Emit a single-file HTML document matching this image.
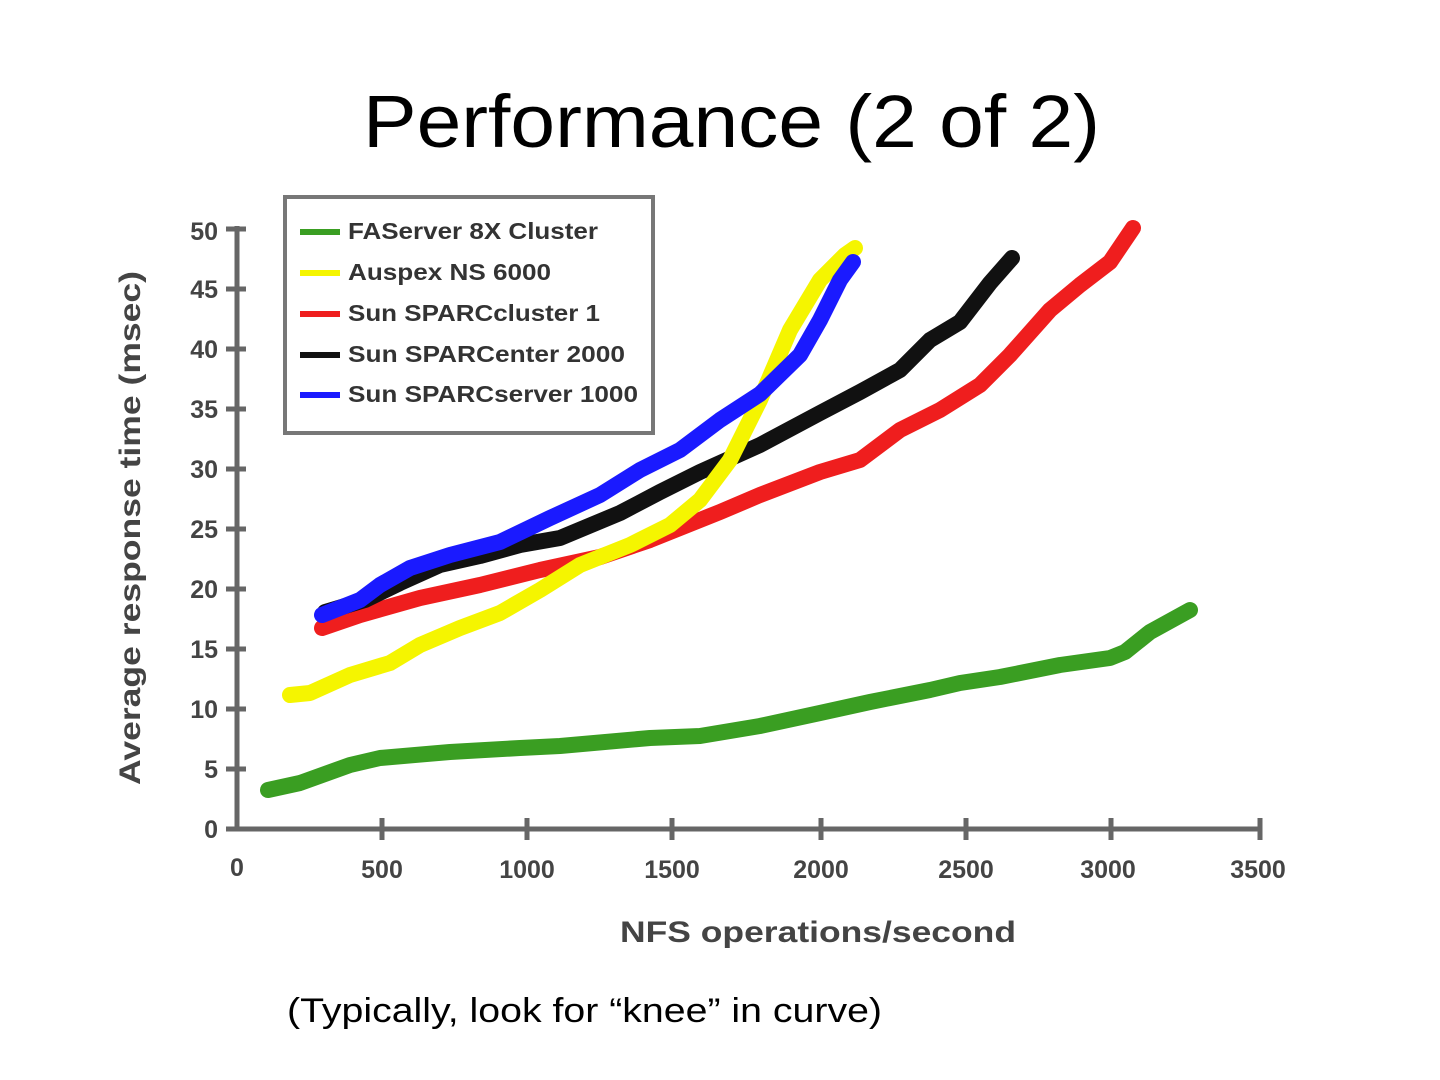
<!DOCTYPE html>
<html><head><meta charset="utf-8"><style>
html,body{margin:0;padding:0;background:#fff;width:1440px;height:1080px;overflow:hidden}
</style></head><body>
<svg width="1440" height="1080" viewBox="0 0 1440 1080" xmlns="http://www.w3.org/2000/svg">
<text x="363" y="147" textLength="737" lengthAdjust="spacingAndGlyphs" font-family="Liberation Sans, sans-serif" font-size="74" fill="#000">Performance (2 of 2)</text>
<g stroke="#666" stroke-width="5" fill="none">
<line x1="237" y1="226" x2="237" y2="831"/>
<line x1="235" y1="829" x2="1262" y2="829"/>
<g stroke-width="5">
<line x1="226" y1="829" x2="246" y2="829"/><line x1="226" y1="769" x2="246" y2="769"/><line x1="226" y1="709" x2="246" y2="709"/><line x1="226" y1="649" x2="246" y2="649"/><line x1="226" y1="589" x2="246" y2="589"/><line x1="226" y1="529" x2="246" y2="529"/><line x1="226" y1="469" x2="246" y2="469"/><line x1="226" y1="409" x2="246" y2="409"/><line x1="226" y1="349" x2="246" y2="349"/><line x1="226" y1="289" x2="246" y2="289"/><line x1="226" y1="229" x2="246" y2="229"/>
<line x1="382" y1="818" x2="382" y2="840"/><line x1="527" y1="818" x2="527" y2="840"/><line x1="672" y1="818" x2="672" y2="840"/><line x1="821" y1="818" x2="821" y2="840"/><line x1="966" y1="818" x2="966" y2="840"/><line x1="1111" y1="818" x2="1111" y2="840"/><line x1="1260" y1="818" x2="1260" y2="840"/>
</g></g>
<g font-family="Liberation Sans, sans-serif" font-weight="bold" font-size="25" fill="#444" text-anchor="end">
<text x="218" y="838">0</text><text x="218" y="778">5</text><text x="218" y="718">10</text><text x="218" y="658">15</text><text x="218" y="598">20</text><text x="218" y="538">25</text><text x="218" y="478">30</text><text x="218" y="418">35</text><text x="218" y="358">40</text><text x="218" y="298">45</text><text x="218" y="240">50</text>
</g>
<g font-family="Liberation Sans, sans-serif" font-weight="bold" font-size="25" fill="#444" text-anchor="middle">
<text x="237" y="876">0</text><text x="382" y="878">500</text><text x="527" y="878">1000</text><text x="672" y="878">1500</text><text x="821" y="878">2000</text><text x="966" y="878">2500</text><text x="1108" y="878">3000</text><text x="1258" y="878">3500</text>
<text x="818" y="942" font-size="30" textLength="396" lengthAdjust="spacingAndGlyphs">NFS operations/second</text>
<text transform="translate(140,528) rotate(-90)" font-size="30" textLength="514" lengthAdjust="spacingAndGlyphs">Average response time (msec)</text>
</g>
<g fill="none" stroke-width="16" stroke-linecap="round" stroke-linejoin="round">
<polyline stroke="#3a9e22" points="268,790 300,783 350,765 380,758 450,752 520,748 560,746 650,738 700,736 760,726 820,713 870,702 930,690 960,683 1000,677 1060,665 1110,658 1125,652 1150,632 1190,610"/>
<polyline stroke="#ef1e1e" points="322,628 360,615 420,598 480,585 540,570 600,557 650,540 720,512 760,495 820,472 860,460 900,430 940,410 980,385 1010,355 1050,310 1080,285 1110,262 1133,228"/>
<polyline stroke="#111" points="325,612 365,600 400,583 440,565 480,556 520,545 560,538 620,513 660,492 700,472 760,445 820,413 860,392 900,370 930,340 960,322 990,283 1012,258"/>
<polyline stroke="#f5f500" points="290,695 310,693 350,675 390,663 420,645 460,628 500,613 540,590 580,565 630,545 670,525 700,500 730,460 760,400 790,330 820,280 845,255 855,248"/>
<polyline stroke="#1a1aff" points="322,615 360,600 380,585 410,568 450,555 500,542 550,518 600,495 640,470 680,450 720,420 760,394 800,355 820,320 840,280 853,262"/>
</g>
<rect x="285" y="197" width="368" height="236" fill="#fff" stroke="#777" stroke-width="4"/>
<g stroke-width="6">
<line x1="300" y1="232" x2="340" y2="232" stroke="#3a9e22"/>
<line x1="300" y1="273" x2="340" y2="273" stroke="#f5f500"/>
<line x1="300" y1="314" x2="340" y2="314" stroke="#ef1e1e"/>
<line x1="300" y1="355" x2="340" y2="355" stroke="#111"/>
<line x1="300" y1="395" x2="340" y2="395" stroke="#1a1aff"/>
</g>
<g font-family="Liberation Sans, sans-serif" font-weight="bold" font-size="23" fill="#333" lengthAdjust="spacingAndGlyphs">
<text x="348" y="239" textLength="250" lengthAdjust="spacingAndGlyphs">FAServer 8X Cluster</text>
<text x="348" y="280" textLength="203" lengthAdjust="spacingAndGlyphs">Auspex NS 6000</text>
<text x="348" y="321" textLength="252" lengthAdjust="spacingAndGlyphs">Sun SPARCcluster 1</text>
<text x="348" y="362" textLength="277" lengthAdjust="spacingAndGlyphs">Sun SPARCenter 2000</text>
<text x="348" y="402" textLength="290" lengthAdjust="spacingAndGlyphs">Sun SPARCserver 1000</text>
</g>
<text x="287" y="1022" textLength="595" lengthAdjust="spacingAndGlyphs" font-family="Liberation Sans, sans-serif" font-size="34" fill="#000">(Typically, look for “knee” in curve)</text>
</svg>
</body></html>
